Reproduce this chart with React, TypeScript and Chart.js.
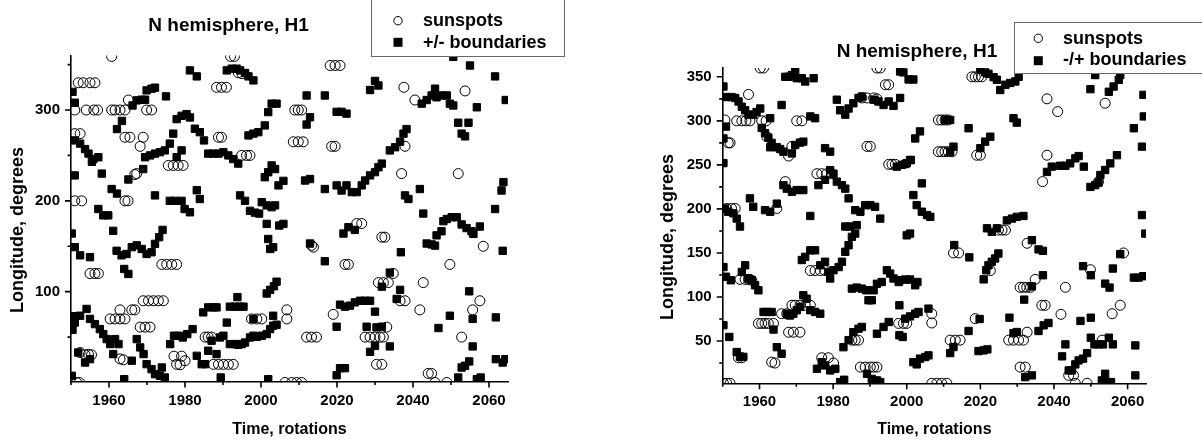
import React, { useEffect, useRef } from "react";
import { Chart, registerables } from "chart.js";

Chart.register(...registerables);

type Pt = [number, number];

// ---------- tick values ----------
const xTickValues = [1950, 1960, 1970, 1980, 1990, 2000, 2010, 2020, 2030, 2040, 2050, 2060];
const xLabelValues = [1960, 1980, 2000, 2020, 2040, 2060];
const leftYTickValues = [50, 100, 150, 200, 250, 300, 350];
const leftYLabelValues = [100, 200, 300];
const rightYTickValues = [25, 50, 75, 100, 125, 150, 175, 200, 225, 250, 275, 300, 325, 350];
const rightYLabelValues = [50, 100, 150, 200, 250, 300, 350];

// ---------- left panel: +/- boundaries ----------
const leftSunspots: Pt[] = [
  [1960.7, 359], [1992, 359], [1993, 359],
  [1951.9, 330], [1953.2, 330], [1955, 330], [1956.3, 330],
  [1951, 300], [1954, 300], [1956, 300], [1957, 300], [1960.7, 300], [1961.6, 300], [1962.9, 300], [1964.2, 300], [1969.9, 300], [1971.2, 300],
  [1965.1, 311],
  [1951, 274], [1952.4, 274],
  [1964.2, 270], [1965.5, 270], [1969, 270], [1968.2, 260],
  [1966.8, 229], [1967.3, 230],
  [1975.6, 239], [1976.9, 239], [1978.2, 239], [1979.5, 239],
  [1988.3, 325], [1989.6, 325], [1990.9, 325],
  [1988.8, 270], [1989.6, 270],
  [1994.9, 250], [1996.2, 250], [1997.1, 250],
  [1994, 341], [1995, 340],
  [1951, 200], [1952.8, 200], [1964.2, 200], [1965, 200],
  [2008.9, 300], [2009.8, 300], [2010.7, 300],
  [2008.5, 265], [2009.8, 265], [2011.1, 265],
  [2018.2, 349], [2019.5, 349], [2020.8, 349],
  [2018.6, 260], [2019.5, 260],
  [2037.6, 325], [2040.5, 311], [2053.7, 321], [2037.9, 260], [2037, 230], [2051.9, 230],
  [2025.2, 175], [2026.5, 175], [2031.8, 160], [2032.6, 160], [2013.3, 151], [2013.8, 149], [2022.1, 130], [2023, 130],
  [2030.9, 110], [2032.2, 110], [2033.5, 110], [2034.8, 120], [2042.7, 110], [2049.7, 130], [2058.5, 150],
  [2057.6, 90], [2055.7, 80], [2041.8, 80], [2036.6, 90], [2037.9, 90], [2019, 75], [2006.8, 80], [2006.8, 70],
  [2012, 50], [2013.3, 50], [2014.6, 50], [2027.4, 50], [2028.7, 50], [2030, 50], [2031.3, 50], [2032.2, 50], [2033.1, 61], [2052.8, 50],
  [2030.4, 20], [2031.8, 20], [2044, 10], [2044.9, 10], [2045.8, 0], [2048.9, 0],
  [2006.3, 0], [2008.1, 0], [2009.4, 0], [2010.7, 0],
  [1951.5, 0], [1952.2, 0],
  [1952.4, 33], [1953.7, 30.5], [1954.6, 31], [1955.4, 30.5],
  [1955, 120], [1956.3, 120], [1957.2, 120],
  [1960.3, 70], [1961.6, 70], [1962.9, 70], [1964.2, 70], [1962.9, 80], [1966, 80], [1966.8, 80],
  [1962.9, 26], [1963.8, 25],
  [1968.2, 61], [1969.5, 61], [1970.8, 61],
  [1969, 90], [1970.4, 90], [1971.7, 90], [1973, 90], [1974.3, 90],
  [1973.9, 130], [1975.2, 130], [1976.5, 130], [1977.8, 130],
  [1977.1, 29], [1977.8, 20], [1979.1, 29], [1980, 24], [1978.7, 19.5],
  [1985.3, 50], [1986.1, 50], [1987, 50],
  [1987.5, 20], [1988.8, 20], [1990.1, 20], [1991.4, 20], [1992.7, 20],
  [1997.5, 70], [1998.9, 70], [2000.2, 70],
];

const leftBoundaries: Pt[] = [
  [1950.4, 320], [1951, 308],
  [1951, 266.5], [1952.4, 263], [1953.7, 257], [1954.6, 252], [1955.9, 246], [1957.2, 248], [1955.5, 243],
  [1951, 228], [1958.1, 230], [1965.1, 223.5],
  [1960.7, 213], [1962.1, 208],
  [1957.2, 191], [1958.5, 184], [1959.8, 184],
  [1962.1, 279], [1963.4, 288],
  [1966.2, 305], [1967.3, 310.6], [1968.6, 311.3], [1969.5, 311.3],
  [1969.9, 321.6], [1971.2, 323.5], [1972.1, 324.6],
  [1975, 315],
  [1969.5, 248], [1970.8, 250], [1972.1, 252], [1973.4, 253.6], [1974.7, 255.5], [1976, 263], [1976.9, 274],
  [1969, 235],
  [1977.8, 290], [1979.1, 293.6], [1980.4, 295.5], [1981.3, 291.8], [1982.6, 279.4], [1983.9, 275.6], [1985, 266.5],
  [1977.8, 248], [1979.1, 255.5],
  [1972.1, 206],
  [1976, 200], [1977.4, 200], [1979.1, 200],
  [1979.9, 191], [1981.3, 187.4],
  [1981.3, 343.6], [1983.1, 337],
  [1983.1, 211.7], [1983.9, 202],
  [1986.1, 252], [1987.4, 252], [1988.8, 252], [1990.1, 253.6], [1991.4, 250], [1992.7, 246], [1994, 241],
  [1991, 343.6], [1992.3, 345.5], [1993.6, 345.5], [1994.5, 343.6], [1995.8, 340.7], [1996.7, 337], [1998, 332.6],
  [1996.7, 272], [1998, 274], [1999.3, 275.6], [2001, 283],
  [2001.9, 297.7], [2002.8, 307], [2004.1, 307],
  [1994.5, 206], [1995.8, 200], [1997.1, 189], [1998.4, 187], [1999.5, 186],
  [2000.2, 198.5], [2001.5, 195], [2002.8, 193], [2003.7, 195],
  [2001, 226], [2001.9, 231.5], [2002.8, 239], [2003.7, 235], [2004.6, 217], [2005.9, 222],
  [1950.2, 164], [1951, 149], [1952.4, 140], [1955, 138],
  [1961.1, 167],
  [1962, 145], [1963.3, 140], [1964.6, 141.5], [1966, 149], [1967.3, 151], [1968.6, 147], [1969.9, 141.5], [1971.2, 143.4], [1972.1, 152.6], [1973.2, 160], [1974.1, 168],
  [1964, 125], [1965.1, 119.5],
  [1950.4, 73], [1951, 66], [1950.4, 58],
  [1952.4, 73.5], [1954.1, 81], [1955, 70], [1956.3, 64.3], [1957.6, 58.8], [1958.5, 53.3], [1959.4, 47.8], [1960.3, 42.3], [1961.6, 47.8], [1962.5, 42.3],
  [1967.3, 47.8],
  [1968.2, 38.6], [1969.1, 31.3], [1969.9, 20.2], [1971.2, 14.7], [1972.1, 9.2], [1973.4, 7.4], [1974.7, 5.5],
  [1961.1, 31.3], [1964, 3.7], [1966, 24], [1973.9, 16.5],
  [1951.9, 33], [1953.7, 22], [1955, 25.7],
  [1950.2, 7.4],
  [1976.1, 42.3], [1977.1, 51.5], [1978.4, 51.5], [1979.4, 49.6], [1980.6, 53.3], [1982, 58.8],
  [1983.1, 29.4], [1984.4, 20.2], [1985.3, 20.2],
  [1984.8, 77.2], [1986.1, 82.7], [1987.5, 82.7], [1988.3, 82.7],
  [1986.1, 35], [1987, 46], [1988.3, 31.3], [1989.2, 49.6], [1990.1, 51.5],
  [1989.4, 5.5],
  [1991, 66], [1991.8, 83.5], [1993.2, 83.5], [1994.5, 83.5], [1995.4, 83.5], [1993.8, 94],
  [1991.8, 42.3], [1993.2, 42.3], [1994, 41.5], [1994.9, 42.3], [1995.8, 44], [1997.1, 49.6], [1998, 51.5], [1998.9, 50.3], [2000.2, 51.5], [2001.5, 53.3], [2002.4, 58.8], [2003.2, 62.5], [2004.1, 63.6],
  [1998, 70],
  [2001.9, 3.7],
  [2001.5, 98], [2002.4, 102], [2003.4, 106], [2004.1, 111],
  [2002.4, 147], [2003.2, 149], [2001.9, 158], [2001.5, 174.6], [2004.8, 172.8], [2005.9, 174.6],
  [2003.2, 73.5],
  [2012, 316], [2016.8, 316],
  [2012.9, 292], [2012, 284],
  [2019.9, 298], [2021.2, 298], [2022.5, 296],
  [2030, 332], [2030.9, 327], [2028.7, 322],
  [2042.3, 307], [2043.6, 311], [2044.9, 316], [2045.8, 323.5], [2046.2, 314], [2047.5, 316], [2048.9, 316], [2049.7, 307], [2050.6, 305],
  [2050.6, 358.5], [2055, 349], [2061.6, 337], [2064.4, 311],
  [2056.8, 303],
  [2051.9, 286], [2054.6, 286],
  [2052.8, 274], [2053.7, 271],
  [2038.3, 279], [2037.5, 274], [2036.6, 265], [2035.3, 259], [2033.9, 255.5],
  [2031.8, 241], [2030.9, 237], [2030, 231.6], [2028.7, 228], [2027.4, 222.4], [2026.5, 217],
  [2025.2, 209.6], [2023.9, 209.6], [2022.5, 217], [2021.2, 211.4], [2019.9, 217], [2016.8, 213],
  [2012.9, 224], [2011.6, 222.4],
  [2037.9, 206], [2038.8, 202],
  [2041.8, 213],
  [2042.7, 186], [2050.2, 182], [2051.5, 182], [2048.9, 180],
  [2061.6, 191], [2063.3, 211.4], [2063.8, 220.6],
  [2021.7, 164], [2023, 171], [2024.7, 168],
  [2012.9, 153], [2016.8, 133.5],
  [2048, 177.6], [2052.8, 174], [2054.1, 170], [2055.4, 166.5], [2055.9, 163.6], [2057.6, 171.7],
  [2046.2, 162], [2047.5, 166.5], [2043.6, 153], [2044.9, 152], [2045.8, 150.7],
  [2063.6, 145],
  [2036.8, 143.4],
  [2033.9, 121], [2031.8, 105.5],
  [2036.6, 102], [2035.7, 92],
  [2020.8, 85.7], [2022.1, 83.5], [2023.4, 84.6], [2024.7, 88.2], [2026.1, 90], [2027.4, 90], [2028.7, 90],
  [2030, 78],
  [2019.9, 61.4], [2027.8, 61.4], [2030.4, 60.7], [2031.8, 61.4],
  [2030, 40.4], [2028.7, 33.8], [2033.9, 39.7],
  [2046.7, 60], [2049.7, 73.5], [2054.8, 100.4], [2055.7, 70], [2055.7, 39.7], [2061.8, 71.7],
  [2019.9, 8], [2020.8, 15.8], [2022.1, 15.8],
  [2051.9, 5.5], [2052.8, 16.5], [2053.7, 18.4], [2054.8, 23.2],
  [2056.8, 3.7], [2057.8, 5.5],
  [2061.8, 25.7], [2063.6, 22], [2064.3, 25.7],
];

// ---------- right panel: -/+ boundaries ----------
const rightSunspots: Pt[] = [
  [1960.2, 360], [1961.1, 360],
  [1950.6, 301], [1953.8, 300], [1955.2, 300], [1956.3, 300], [1957.4, 300], [1960.6, 300], [1961.8, 300], [1970.1, 300], [1971.5, 300],
  [1957, 330],
  [1951.5, 275], [1952, 275],
  [1962, 282],
  [1967.9, 260], [1968.8, 271],
  [1967, 231],
  [1964.7, 200.5],
  [1951.1, 200.5], [1952.4, 200.5], [1953.4, 200.5],
  [1975.6, 240], [1976.9, 240], [1978.3, 240], [1979.6, 240],
  [1989.2, 271], [1990.1, 271],
  [1987.8, 326], [1989.2, 326], [1991, 326], [1991.9, 325],
  [1991.9, 360], [1992.8, 360],
  [1994.2, 341], [1995.1, 341],
  [1995.1, 250.6], [1996, 250.6], [1996.9, 250.6],
  [2017.7, 350], [2018.6, 350], [2019.5, 350], [2020.4, 350],
  [2008.6, 301], [2009.5, 301], [2010.4, 301], [2011.3, 301],
  [2008.6, 265], [2009.5, 265], [2010.4, 265], [2011.3, 265], [2012.3, 265],
  [2019, 261], [2020, 261],
  [2038.1, 325], [2041, 310.5], [2053.9, 320], [2038.1, 261], [2036.9, 231], [2052.1, 231],
  [1954.7, 120], [1956.1, 120], [1957, 120], [1957.9, 119],
  [1959.7, 70], [1960.6, 70], [1961.5, 70], [1962.4, 70], [1963.8, 70],
  [1966, 81], [1967.4, 81],
  [1967.9, 60], [1969.2, 60], [1971, 60],
  [1968.8, 90.6], [1969.7, 90.6], [1971, 90.6], [1972.4, 90.6], [1973.8, 90.6],
  [1973.8, 130], [1975.1, 130], [1976.5, 130], [1977.8, 130],
  [1963.3, 26], [1964.2, 25],
  [1954.3, 31], [1955.2, 31],
  [1976.9, 31], [1978.7, 31], [1980.1, 25],
  [1985.1, 51], [1986, 51], [1986.9, 51],
  [1987.4, 20.4], [1988.7, 20.4], [1990.1, 20.4], [1991, 20.4], [1991.9, 20.4],
  [1950.2, 2], [1951.1, 2], [1952, 2],
  [1997.8, 70], [1999.1, 70], [2000, 70],
  [2024.9, 176], [2025.9, 176], [2026.8, 176],
  [2032.7, 161],
  [2012.7, 150], [2014.1, 150],
  [2022.7, 130],
  [2034.9, 120],
  [2030.8, 111], [2031.7, 111], [2032.6, 111], [2033.6, 111],
  [2043.1, 111], [2049.9, 131], [2058.9, 150],
  [2036.7, 90.6], [2037.6, 90.6],
  [2041.9, 80.3], [2055.8, 81], [2058, 90.6],
  [2018.6, 75.4],
  [2006.8, 81], [2006.8, 70.5],
  [2011.8, 51], [2013.2, 51], [2014.5, 51],
  [2027.7, 51], [2029, 51], [2030.4, 51], [2031.7, 51], [2032.7, 60],
  [2053.1, 51],
  [2030.8, 20.4], [2032.2, 20.4],
  [2044, 11], [2045.3, 11],
  [2045.8, 2], [2049, 2],
  [2006.8, 2], [2008.2, 2], [2009.5, 2], [2010.9, 2],
];

const rightBoundaries: Pt[] = [
  [1950.2, 339], [1950.9, 327], [1952.4, 327], [1953.4, 326], [1954.3, 322], [1955.2, 316], [1956.1, 312], [1957, 307], [1958.3, 307], [1959.2, 310], [1960.2, 314],
  [1950.9, 293.5], [1950.2, 280],
  [1950.2, 252],
  [1960.6, 292], [1961.5, 286], [1962.4, 281], [1963.3, 275], [1962.9, 270], [1964.7, 270], [1965.6, 268], [1966.5, 265],
  [1962.9, 303],
  [1966, 318],
  [1968.8, 263], [1969.7, 272.6], [1971, 275.3], [1971.9, 276.4],
  [1967, 350], [1967.9, 350], [1968.8, 352], [1969.7, 356], [1970.1, 348.4], [1971.5, 348.4], [1972.4, 344.7], [1974.7, 348.4],
  [1973.8, 305], [1975.1, 303],
  [1977.8, 269], [1979.2, 265],
  [1966.5, 227], [1967.4, 223], [1968.8, 219.5], [1970.1, 221.4], [1971.9, 221.4],
  [1957.4, 212], [1958.3, 202.4],
  [1961.5, 198.6], [1962.9, 196.8],
  [1964.7, 206],
  [1976, 227], [1977.8, 233], [1979.2, 244], [1980.1, 240], [1981, 231], [1982.4, 227], [1983.3, 223], [1984.2, 212],
  [1981, 324], [1981.9, 312], [1983.3, 307], [1984.2, 314], [1985.5, 320], [1986.9, 326], [1987.8, 327.6],
  [1991, 324], [1992.3, 322], [1993.7, 318], [1995.1, 322], [1996.4, 317], [1998.2, 326],
  [1973.8, 192],
  [1986, 198.6], [1987.4, 196.8], [1988.7, 204.3], [1990.1, 204.3], [1991.4, 202.4],
  [1992.8, 189],
  [1997.3, 248], [1998.7, 250], [2000, 252], [2001.1, 255.5],
  [1998.2, 356], [1999.1, 355], [2000.5, 347], [2001.8, 347],
  [2020, 358], [2021.3, 355], [2022.2, 353.4], [2023.6, 349.6], [2024.5, 346.6], [2025.4, 335], [2026.8, 341], [2028.1, 343], [2029.5, 344.7], [2030.4, 350],
  [2010.4, 301], [2011.8, 301],
  [2016.8, 291.6],
  [2029, 303], [2029.9, 298],
  [2012.7, 270.7], [2011.8, 265],
  [2020, 269], [2021.3, 276.4], [2022.7, 282],
  [2003.6, 288], [2002.3, 280], [2000.9, 255.5], [1999.6, 251],
  [2038.1, 242], [2039.4, 248], [2041.7, 249], [2043.1, 249], [2044.4, 251.7], [2045.8, 257.4], [2046.7, 260], [2048.1, 248],
  [2049.9, 336],
  [2051.2, 352], [2054.9, 333], [2056.2, 339], [2057.6, 346.6], [2058, 352],
  [2052.6, 238.5], [2053.9, 244.2], [2055.3, 251.7], [2057.1, 261], [2049.9, 225], [2051.2, 227], [2052.1, 229.8],
  [2061.7, 291.6], [2064.3, 329.5], [2064.4, 305], [2063.9, 270.7], [2063.9, 193],
  [2004.1, 229],
  [2001.8, 215.7],
  [1950.6, 200.5], [1951.5, 196.8], [1952.9, 195], [1953.8, 189], [1954.7, 180],
  [1950.2, 134], [1950.9, 123], [1952.2, 119],
  [1955.2, 128.5], [1956.1, 136], [1957, 121], [1957.9, 119], [1958.8, 113.3], [1959.7, 107.6],
  [1950.2, 68],
  [1951.8, 54.6],
  [1953.8, 37.5], [1954.7, 32], [1955.6, 32],
  [1961.1, 83], [1962, 83], [1963.3, 83],
  [1963.8, 63],
  [1964.7, 43], [1966, 35.6],
  [1967.4, 81], [1968.3, 79], [1969.2, 81], [1970.1, 85], [1971, 88.7], [1971.9, 102], [1972.8, 98],
  [1973.8, 85], [1975.1, 83], [1976.5, 81],
  [1971.5, 142], [1972.4, 145.6], [1973.8, 153], [1975.1, 153],
  [1976.5, 136], [1977.8, 140], [1978.7, 128.5], [1979.2, 121], [1980.1, 130.4], [1981.5, 134], [1982.4, 140], [1983.3, 151.3], [1984.2, 158.8], [1985.1, 168.3], [1986, 172], [1983.3, 180], [1984.6, 180], [1986.4, 181.6],
  [1975.6, 18.5], [1976.9, 26], [1977.8, 22.3], [1979.2, 16.6], [1980.6, 18.5],
  [1981.9, 3.4], [1983, 6],
  [1982.8, 43], [1984.2, 51], [1985.5, 60], [1986.9, 64], [1987.8, 66],
  [1989.2, 12.8], [1990.5, 7], [1991.9, 5.3], [1992.8, 3.4],
  [1985.1, 109.5], [1986.4, 110.7], [1987.8, 109.5], [1989, 107.6],
  [1989.6, 96.3], [1990.5, 96.3],
  [1991, 107.6], [1991.9, 115], [1993.2, 117], [1994.6, 130.4], [1995.5, 126.6], [1996.4, 121], [1997.8, 117],
  [1991.9, 58.3], [1993.7, 66], [1995.1, 71.6],
  [1998, 90.6],
  [1998, 56.5], [1998.9, 54.6],
  [2002.7, 204.3], [2004.1, 196.8], [2005.5, 193], [2006.4, 191],
  [2000, 170], [2000.9, 172],
  [1998.2, 119], [1999.6, 119.8], [2000.9, 119.8], [2002.3, 113.3], [2002.9, 117],
  [2021.8, 178], [2023.1, 174], [2024.5, 178], [2027.2, 187], [2028.6, 189], [2029.9, 191], [2031.7, 192],
  [2012.9, 159], [2017, 145],
  [2034, 164.5], [2035.8, 154], [2037, 152.4],
  [2024.9, 149.4], [2024, 143.7], [2023.1, 140], [2022.2, 136], [2021.6, 130.4], [2020.9, 120],
  [2037, 124.7], [2034, 112], [2031.9, 97], [2027.9, 76.5], [2019.8, 75],
  [2029, 59], [2029.9, 60.2], [2035.8, 61.4], [2037.2, 67.8], [2038.5, 70.5],
  [2016.8, 61.4],
  [2011.8, 36.3], [2012.7, 43.2],
  [2019.5, 38.6], [2020.9, 39.4], [2021.9, 40.5],
  [2001.8, 26], [2002.7, 23.5], [2003.6, 30], [2005, 31.8], [2005.9, 33.7],
  [2005.9, 86.8],
  [1999.6, 75.4], [2000.9, 78], [2002.3, 81], [2003.2, 83],
  [2032.2, 9], [2034, 11],
  [2042.2, 32.6], [2043.1, 46.2],
  [2044, 16.6], [2044.9, 16.6], [2045.8, 23.5], [2046.7, 28], [2047.9, 30], [2049, 36.3], [2050, 53.8], [2051, 46.2], [2052.1, 46.2], [2053.3, 46.2], [2054.9, 53.8], [2056, 46.2],
  [2047.2, 72.8], [2050, 76.5],
  [2047.9, 135], [2050, 124.7],
  [2053.9, 115.2], [2055.1, 110.7],
  [2056, 132.3], [2058, 148.6],
  [2061.7, 122], [2063, 122], [2064.2, 123.6],
  [2064.8, 172],
  [2062.1, 45], [2062.1, 11],
  [2053.9, 12.8], [2053, 5.3], [2054.4, 3.4], [2055.5, 3.4],
];

// ---------- layout / style config ----------
const FONT = "'Liberation Sans', Arial, sans-serif";

type PanelCfg = {
  left: number;
  width: number;
  padTop: number;
  padRight: number;
  yAxisWidth: number;
  xAxisHeight: number;
  yMin: number;
  yMax: number;
  yTicks: number[];
  yLabels: number[];
  sunspots: Pt[];
  boundaries: Pt[];
  boundaryLabel: string;
  title: string;
  titleX: number;
  titleY: number;
  yTitleX: number;
  yTitleY: number;
  xTitleY: number;
  legendBox: [number, number, number, number];
  legendMarkX: number;
  legendMarkY: [number, number];
  legendTextX: number;
  legendTextY: [number, number];
};

const panels: PanelCfg[] = [
  {
    left: 0, width: 601, padTop: 55.5, padRight: 93, yAxisWidth: 71, xAxisHeight: 59.4,
    yMin: 1, yMax: 360, yTicks: leftYTickValues, yLabels: leftYLabelValues,
    sunspots: leftSunspots, boundaries: leftBoundaries, boundaryLabel: "+/- boundaries",
    title: "N hemisphere, H1", titleX: 148.3, titleY: 30.7,
    yTitleX: 17.7, yTitleY: 230, xTitleY: 434,
    legendBox: [371.5, -2, 564.5, 56.5], legendMarkX: 398, legendMarkY: [20.7, 42.3],
    legendTextX: 423, legendTextY: [26.3, 48.3],
  },
  {
    left: 601, width: 601, padTop: 68, padRight: 56, yAxisWidth: 121.7, xAxisHeight: 57.7,
    yMin: 2, yMax: 360, yTicks: rightYTickValues, yLabels: rightYLabelValues,
    sunspots: rightSunspots, boundaries: rightBoundaries, boundaryLabel: "-/+ boundaries",
    title: "N hemisphere, H1", titleX: 235.7, titleY: 56.7,
    yTitleX: 67, yTitleY: 237, xTitleY: 434,
    legendBox: [413.5, 22.5, 605, 73.5], legendMarkX: 437.3, legendMarkY: [38.3, 60.7],
    legendTextX: 462, legendTextY: [44.3, 65],
  },
];

function makeDecor(c: PanelCfg) {
  return {
    id: "decor",
    afterDraw(chart: any) {
      const ctx: CanvasRenderingContext2D = chart.ctx;
      const xs = chart.scales.x;
      const ys = chart.scales.y;
      const a = chart.chartArea;
      ctx.save();
      // tick marks
      ctx.strokeStyle = "#000";
      ctx.lineWidth = 1.6;
      ctx.beginPath();
      for (const v of xTickValues) {
        const px = xs.getPixelForValue(v);
        const len = xLabelValues.includes(v) ? 6 : 3.5;
        ctx.moveTo(px, a.bottom);
        ctx.lineTo(px, a.bottom + len);
      }
      for (const v of c.yTicks) {
        const py = ys.getPixelForValue(v);
        const len = c.yLabels.includes(v) ? 6 : 3.5;
        ctx.moveTo(a.left, py);
        ctx.lineTo(a.left - len, py);
      }
      ctx.stroke();

      ctx.fillStyle = "#000";
      // chart title
      ctx.font = `bold 19px ${FONT}`;
      ctx.textAlign = "left";
      ctx.textBaseline = "alphabetic";
      ctx.fillText(c.title, c.titleX, c.titleY);
      // x axis title
      ctx.font = `bold 16px ${FONT}`;
      ctx.textAlign = "center";
      ctx.fillText("Time, rotations", (a.left + a.right) / 2, c.xTitleY);
      // y axis title
      ctx.save();
      ctx.translate(c.yTitleX, c.yTitleY);
      ctx.rotate(-Math.PI / 2);
      ctx.font = `bold 18px ${FONT}`;
      ctx.textAlign = "center";
      ctx.textBaseline = "middle";
      ctx.fillText("Longitude, degrees", 0, 0);
      ctx.restore();

      // legend
      const [bx0, by0, bx1, by1] = c.legendBox;
      ctx.fillStyle = "#fff";
      ctx.fillRect(bx0, by0, bx1 - bx0, by1 - by0);
      ctx.strokeStyle = "#6b6b6b";
      ctx.lineWidth = 1;
      ctx.strokeRect(bx0, by0, bx1 - bx0, by1 - by0);
      // circle marker
      ctx.strokeStyle = "#000";
      ctx.lineWidth = 1;
      ctx.beginPath();
      ctx.arc(c.legendMarkX, c.legendMarkY[0], 4.2, 0, Math.PI * 2);
      ctx.stroke();
      // square marker
      ctx.fillStyle = "#000";
      ctx.fillRect(c.legendMarkX - 4.5, c.legendMarkY[1] - 4.5, 9, 9);
      ctx.font = `bold 18px ${FONT}`;
      ctx.textAlign = "left";
      ctx.textBaseline = "alphabetic";
      ctx.fillText("sunspots", c.legendTextX, c.legendTextY[0]);
      ctx.fillText(c.boundaryLabel, c.legendTextX, c.legendTextY[1]);
      ctx.restore();
    },
  };
}

function Panel({ c }: { c: PanelCfg }) {
  const ref = useRef<HTMLCanvasElement>(null);
  useEffect(() => {
    const chart = new Chart(ref.current as HTMLCanvasElement, {
      type: "scatter",
      data: {
        datasets: [
          {
            label: "sunspots",
            data: c.sunspots.map(([x, y]) => ({ x, y })),
            pointStyle: "circle",
            pointRadius: 5,
            pointHoverRadius: 5,
            borderColor: "#000",
            borderWidth: 1,
            backgroundColor: "rgba(0,0,0,0)",
            clip: 0,
          },
          {
            label: c.boundaryLabel,
            data: c.boundaries.map(([x, y]) => ({ x, y })),
            pointStyle: "rect",
            pointRadius: 5.2,
            pointHoverRadius: 5.2,
            borderColor: "#000",
            borderWidth: 1,
            backgroundColor: "#000",
            clip: 0,
          },
        ],
      },
      options: {
        responsive: false,
        animation: false,
        events: [],
        layout: { padding: { top: c.padTop, right: c.padRight, left: 0, bottom: 0 } },
        plugins: { legend: { display: false }, tooltip: { enabled: false }, title: { display: false } },
        scales: {
          x: {
            type: "linear",
            min: 1950,
            max: 2065,
            afterFit: (s: any) => { s.height = c.xAxisHeight; },
            afterBuildTicks: (s: any) => { s.ticks = xTickValues.map((v) => ({ value: v })); },
            grid: { display: false, drawTicks: false },
            border: { display: true, color: "#000", width: 1.6 },
            ticks: {
              autoSkip: false,
              maxRotation: 0,
              padding: 10,
              color: "#000",
              font: { family: FONT, size: 15, weight: "bold" },
              callback: (v: any) => (xLabelValues.includes(Number(v)) ? String(v) : ""),
            },
          },
          y: {
            type: "linear",
            min: c.yMin,
            max: c.yMax,
            afterFit: (s: any) => { s.width = c.yAxisWidth; },
            afterBuildTicks: (s: any) => { s.ticks = c.yTicks.map((v) => ({ value: v })); },
            grid: { display: false, drawTicks: false },
            border: { display: true, color: "#000", width: 1.6 },
            ticks: {
              autoSkip: false,
              padding: 11,
              color: "#000",
              font: { family: FONT, size: 15, weight: "bold" },
              callback: (v: any) => (c.yLabels.includes(Number(v)) ? String(v) : ""),
            },
          },
        },
      } as any,
      plugins: [makeDecor(c)],
    });
    return () => chart.destroy();
  }, [c]);
  return (
    <canvas
      ref={ref}
      width={c.width}
      height={441}
      style={{ position: "absolute", left: c.left, top: 0, width: c.width, height: 441 }}
    />
  );
}

export default function App() {
  return (
    <div style={{ position: "absolute", left: 0, top: 0, width: 1202, height: 441, background: "#fff", overflow: "hidden" }}>
      {panels.map((c, i) => (
        <Panel key={i} c={c} />
      ))}
    </div>
  );
}
